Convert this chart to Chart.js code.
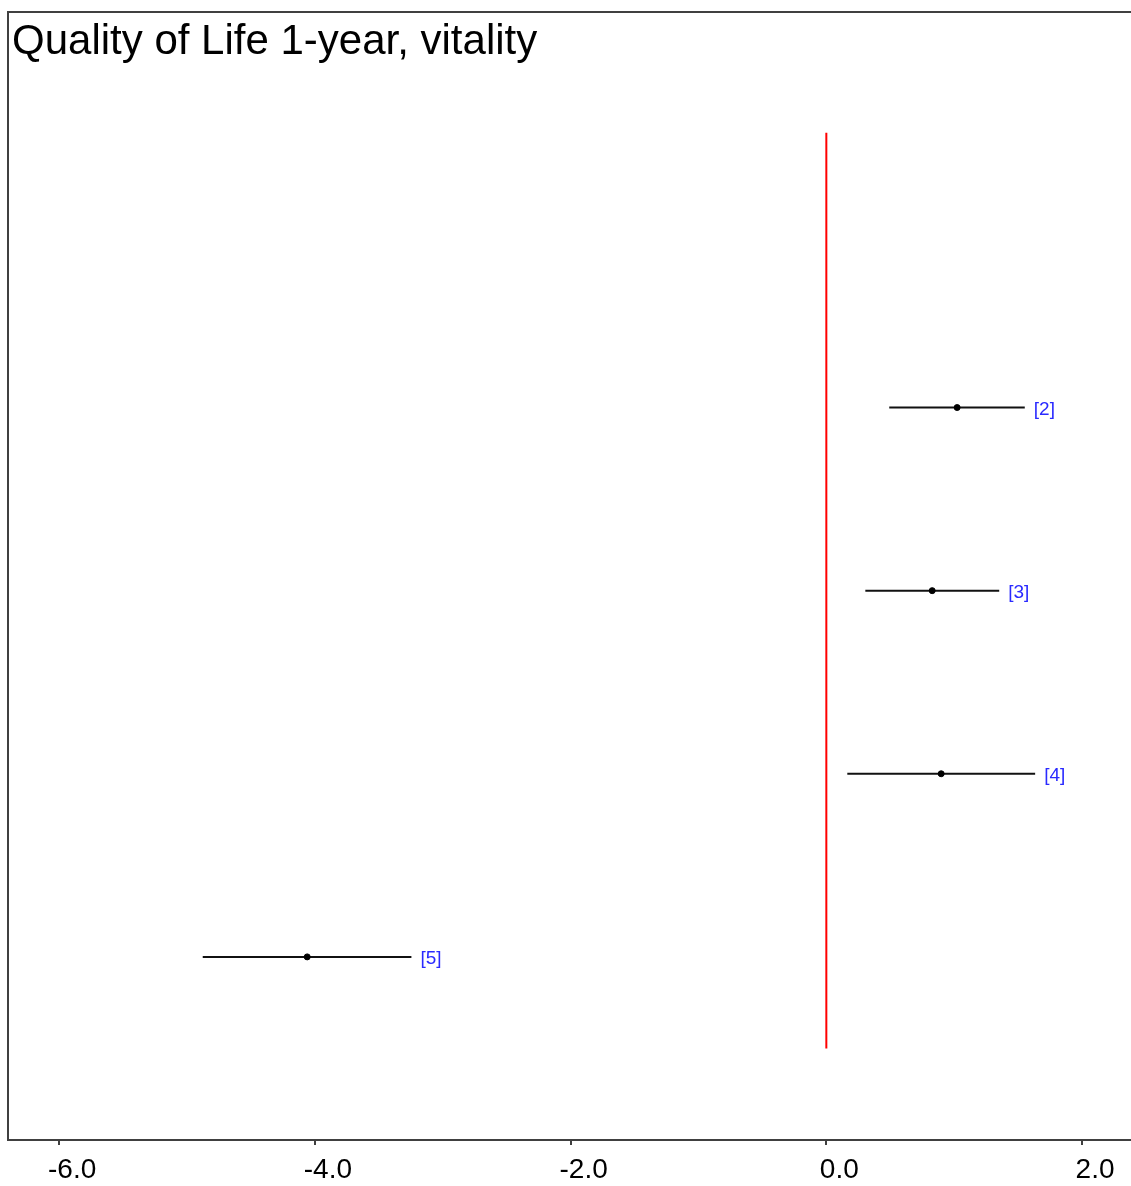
<!DOCTYPE html>
<html>
<head>
<meta charset="utf-8">
<script src="https://cdn.jsdelivr.net/npm/chart.js@4/dist/chart.umd.min.js"></script>
<style>
  html, body { margin: 0; padding: 0; background: #fff; overflow: hidden; }
  #wrap { position: relative; width: 1140px; height: 1186px; }
</style>
</head>
<body>
<div id="wrap"><canvas id="c"></canvas></div>
<script>
// ---- data ----
const chartTitle = 'Quality of Life 1-year, vitality';
const studyLabels = ['[2]', '[3]', '[4]', '[5]'];
const studyRows = [2, 3, 4, 5];
const estimates = [1.023, 0.828, 0.898, -4.060];
const lowerCI = [0.492, 0.305, 0.164, -4.877];
const upperCI = [1.552, 1.352, 1.633, -3.245];
const xTickValues = [-6, -4, -2, 0, 2];
const refLineX = 0;
const refLineRows = [0.5, 5.5];

// ---- datasets ----
const ciDatasets = studyRows.map((r, i) => ({
  type: 'line',
  data: [{ x: lowerCI[i], y: r }, { x: upperCI[i], y: r }],
  borderColor: '#111',
  borderWidth: 2,
  pointRadius: 0,
  showLine: true,
  order: 2
}));

const pointDataset = {
  type: 'scatter',
  data: studyRows.map((r, i) => ({ x: estimates[i], y: r })),
  backgroundColor: '#000',
  borderColor: '#000',
  pointRadius: 3,
  pointStyle: 'circle',
  order: 1
};

const refDataset = {
  type: 'line',
  data: refLineRows.map(r => ({ x: refLineX, y: r })),
  borderColor: '#ff0000',
  borderWidth: 2,
  pointRadius: 0,
  showLine: true,
  order: 3
};

const decorPlugin = {
  id: 'decor',
  afterDraw(chart) {
    const { ctx, chartArea, scales } = chart;
    ctx.save();
    // frame
    ctx.strokeStyle = '#404040';
    ctx.lineWidth = 2;
    ctx.strokeRect(chartArea.left, chartArea.top, chartArea.right - chartArea.left, chartArea.bottom - chartArea.top);
    // title
    ctx.fillStyle = '#000';
    ctx.font = '42px "Liberation Sans", Arial, sans-serif';
    ctx.textBaseline = 'alphabetic';
    ctx.textAlign = 'left';
    ctx.fillText(chartTitle, chartArea.left + 4, 54);
    // study labels
    ctx.fillStyle = '#2a2aff';
    ctx.font = '19px "Liberation Sans", Arial, sans-serif';
    ctx.textBaseline = 'middle';
    studyRows.forEach((r, i) => {
      const px = scales.x.getPixelForValue(upperCI[i]) + 9;
      const py = scales.y.getPixelForValue(r) + 2;
      ctx.fillText(studyLabels[i], px, py);
    });
    ctx.restore();
  }
};

new Chart(document.getElementById('c'), {
  data: { datasets: [...ciDatasets, pointDataset, refDataset] },
  options: {
    responsive: true,
    maintainAspectRatio: false,
    animation: false,
    layout: { padding: { left: 8, right: 4, top: 12, bottom: 0 } },
    plugins: { legend: { display: false }, tooltip: { enabled: false }, title: { display: false } },
    scales: {
      x: {
        type: 'linear',
        min: -6.4,
        max: 2.414,
        afterBuildTicks(scale) { scale.ticks = xTickValues.map(v => ({ value: v })); },
        afterFit(scale) { scale.height = 46; },
        border: { display: false },
        grid: { display: true, drawOnChartArea: false, drawTicks: true, tickLength: 5, color: '#404040', lineWidth: 2 },
        ticks: {
          padding: 8,
          labelOffset: 13,
          color: '#000',
          font: { family: '"Liberation Sans", Arial, sans-serif', size: 28 },
          maxRotation: 0,
          autoSkip: false,
          callback: v => Number(v).toFixed(1)
        }
      },
      y: {
        type: 'linear',
        reverse: true,
        min: -0.16,
        max: 6.0,
        display: false
      }
    }
  },
  plugins: [decorPlugin]
});
</script>
</body>
</html>
